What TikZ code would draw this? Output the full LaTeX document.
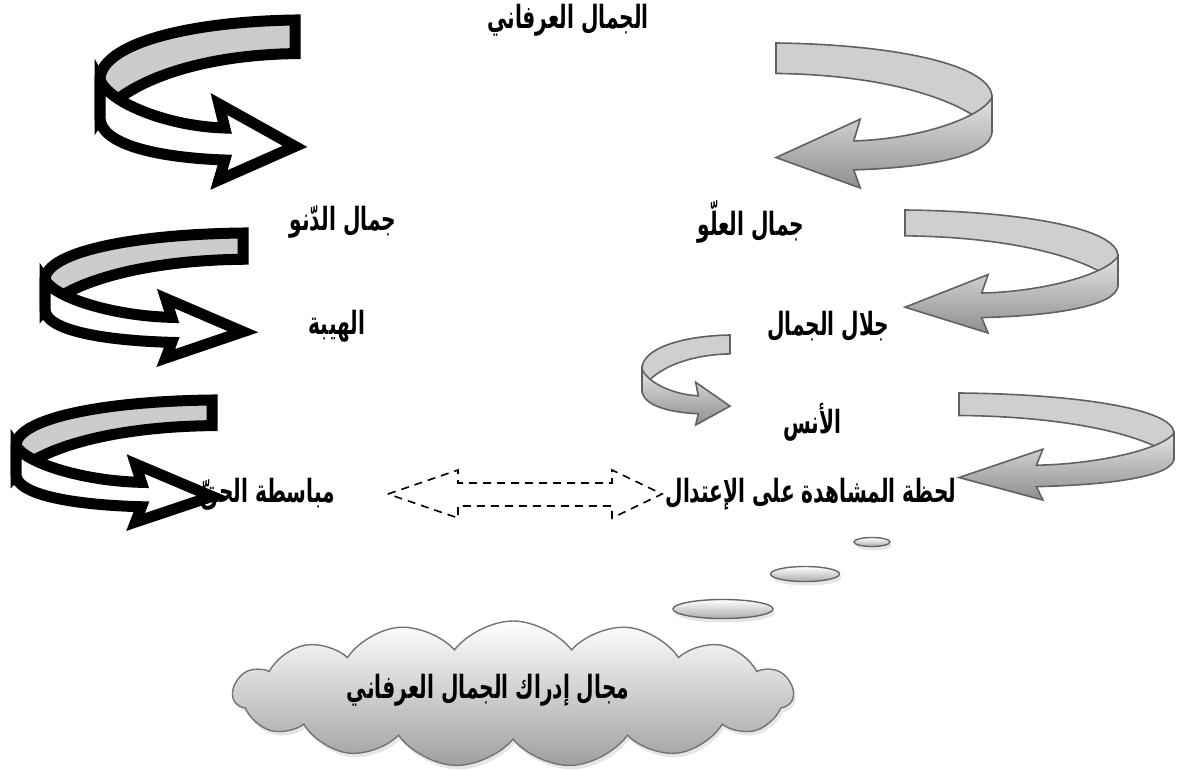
\documentclass[tikz,border=0pt]{standalone}
\usepackage{fontspec}
\usetikzlibrary{shapes.symbols,shapes.geometric,shadows}
\newfontfamily\arabicfont[Script=Arabic,FakeStretch=0.63]{DejaVu Sans}
\TeXXeTstate=1

\tikzset{
  blackback/.style={draw=black, line width=11pt, fill=gray!40},
  blackfront/.style={draw=black, line width=11pt, fill=white},
  greyback/.style={draw=black!62, line width=1.6pt, fill=gray!38},
  greyfront/.style={draw=black!62, line width=1.6pt, top color=gray!22, bottom color=gray!88},
  artext/.style={font=\arabicfont\bfseries\fontsize{32}{36}\selectfont, inner sep=0pt},
  bubble/.style={ellipse, draw=black!60, line width=1.4pt, inner sep=0pt,
    top color=white, bottom color=gray!65,
    drop shadow={opacity=0.2, shadow xshift=2pt, shadow yshift=-4pt}},
  dashedarrow/.style={draw=black, line width=1.6pt, dash pattern=on 8pt off 6pt},
}

% A ribbon that turns half round a cylinder and ends in an arrow head.
% Unit frame: tail at x=1 (top), turn at x=0, head tip at x=1 (bottom).
\newcommand\uturnarrow[3]{%
  \begin{scope}[#1]
    \path[#2] (1,0) .. controls (0.45,0.01) and (0,0.15) .. (0,0.375)
      -- (0,0.61) .. controls (0.1,0.42) and (0.45,0.22) .. (1,0.21) -- cycle;
    \path[#3] (0,0.375) .. controls (0.05,0.52) and (0.35,0.665) .. (0.64,0.675)
      -- (0.61,0.525) -- (1,0.79) -- (0.61,1) -- (0.64,0.875)
      .. controls (0.3,0.86) and (0,0.78) .. (0,0.61) -- cycle;
  \end{scope}}

\begin{document}
\begin{tikzpicture}[x=1pt,y=-1pt]
  \useasboundingbox (0,0) rectangle (1184,771);

  % black ribbon arrows on the left
  \uturnarrow{shift={(100,20)},xscale=195,yscale=160}{blackback}{blackfront}
  \uturnarrow{shift={(45,233)},xscale=198,yscale=125}{blackback}{blackfront}
  \uturnarrow{shift={(16,400)},xscale=196,yscale=122}{blackback}{blackfront}

  % grey ribbon arrows on the right
  \uturnarrow{shift={(992,43)},xscale=-216,yscale=145}{greyback}{greyfront}
  \uturnarrow{shift={(1118,210)},xscale=-213,yscale=123}{greyback}{greyfront}
  \uturnarrow{shift={(1174,393)},xscale=-215,yscale=107}{greyback}{greyfront}
  \uturnarrow{shift={(642,335)},xscale=88,yscale=90}{greyback}{greyfront}

  % labels
  \node[artext] (jamalirfani) at (568,20) {\beginR الجمال العرفاني\endR};
  \node[artext] (dunuw) at (343,222) {\beginR جمال الدّنو\endR};
  \node[artext] (uluw) at (751,222) {\beginR جمال العلّو\endR};
  \node[artext] (hayba) at (337,326) {\beginR الهيبة\endR};
  \node[artext] (jalal) at (828,326) {\beginR جلال الجمال\endR};
  \node[artext] (uns) at (812,422) {\beginR الأنس\endR};
  \node[artext] (mubasata) at (268,494) {\beginR مباسطة الحقّ\endR};
  \node[artext] (lahza) at (811,494) {\beginR لحظة المشاهدة على الإعتدال\endR};

  % dashed double arrow between the two bottom labels
  \coordinate (ltip) at (388,494);
  \coordinate (rtip) at (662,494);
  \draw[dashedarrow] (ltip) -- (458,470) -- (458,483) -- (612,483) -- (612,470)
    -- (rtip) -- (612,518) -- (612,506) -- (458,506) -- (458,518) -- cycle;

  % thought bubbles
  \node[bubble, minimum width=36pt, minimum height=9pt] (bubbleS) at (872,542) {};
  \node[bubble, minimum width=69pt, minimum height=15pt] (bubbleM) at (805,574) {};
  \node[bubble, minimum width=100pt, minimum height=19pt] (bubbleL) at (723,609) {};

  % cloud
  \node[cloud, cloud puffs=15, cloud puff arc=105, cloud ignores aspect,
        minimum width=560pt, minimum height=146pt, draw=black!55, line width=1.4pt,
        top color=white, bottom color=gray!75,
        drop shadow={opacity=0.2, shadow xshift=2pt, shadow yshift=-4pt}]
        (cloud) at (513,694) {};
  \node[artext] (majal) at (488,690) {\beginR مجال إدراك الجمال العرفاني\endR};
\end{tikzpicture}
\end{document}
